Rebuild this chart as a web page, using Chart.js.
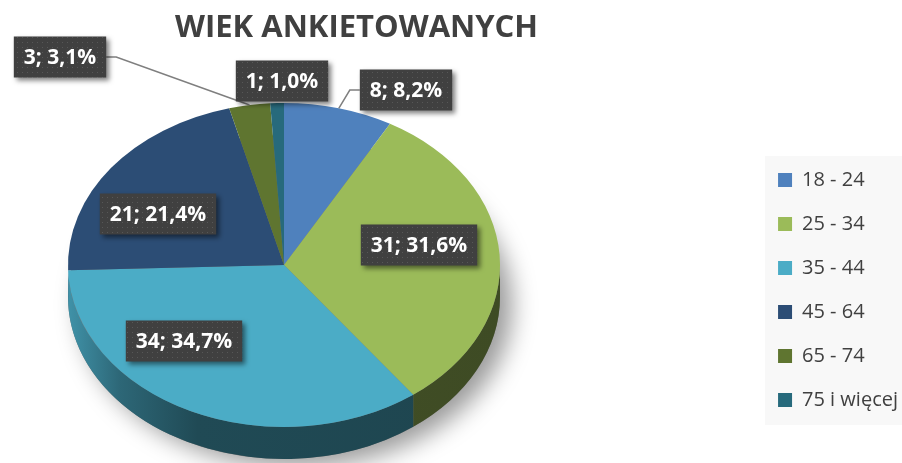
<!DOCTYPE html>
<html>
<head>
<meta charset="utf-8">
<script src="https://cdn.jsdelivr.net/npm/chart.js@4.4.1/dist/chart.umd.min.js"></script>
<style>
  body { margin: 0; background: #fff; }
  #wrap { width: 902px; height: 463px; }
</style>
</head>
<body>
<div id="wrap"><canvas id="pie-chart"></canvas></div>
<script>
var ageGroups = ["18 - 24", "25 - 34", "35 - 44", "45 - 64", "65 - 74", "75 i więcej"];
var respondents = [8, 31, 34, 21, 3, 1];
var sliceColors = ["#4f81bd", "#9bbb59", "#4bacc6", "#2c4d75", "#5f7530", "#276a7c"];

// centre of each data label box
var labelSpots = [[406, 90], [419, 245], [184, 341], [158, 214], [60, 57], [282, 81]];

// the flat pie gets squashed into this ellipse, with a side of "depth" px
var pieBox = { cx: 284, cy: 265, rx: 216, ry: 162, depth: 32 };

function shade(hex, f) {
  var n = parseInt(hex.slice(1), 16);
  var r = Math.round(((n >> 16) & 255) * f), g = Math.round(((n >> 8) & 255) * f), b = Math.round((n & 255) * f);
  return "rgb(" + r + "," + g + "," + b + ")";
}

var total = respondents.reduce(function(a, b) { return a + b; }, 0);

// dotted fill for the label boxes
var dots = document.createElement("canvas");
dots.width = 5; dots.height = 5;
var dctx = dots.getContext("2d");
dctx.fillStyle = "#404040"; dctx.fillRect(0, 0, 5, 5);
dctx.fillStyle = "#575757"; dctx.fillRect(2, 2, 1, 1);

var pie3d = {
  id: "pie3d",
  afterLayout: function(chart) {
    // title sits a bit left of the plot area centre
    chart.titleBlock.left -= 41;
  },
  beforeDraw: function(chart) {
    // grey panel behind the legend
    var ctx = chart.ctx, hb = chart.legend.legendHitBoxes;
    if (!hb || !hb.length) return;
    var last = hb[hb.length - 1];
    ctx.save();
    ctx.fillStyle = "#f8f8f8";
    ctx.fillRect(hb[0].left - 13, hb[0].top - 14, chart.width - hb[0].left + 13, last.top + last.height + 15 - (hb[0].top - 14));
    ctx.restore();
  },
  beforeDatasetsDraw: function(chart) {
    var ctx = chart.ctx, meta = chart.getDatasetMeta(0);
    var p = pieBox;
    // soft shadow under the whole pie
    ctx.save();
    ctx.shadowColor = "rgba(0,0,0,0.4)";
    ctx.shadowBlur = 24;
    ctx.shadowOffsetX = 12;
    ctx.shadowOffsetY = 8;
    ctx.fillStyle = "#777";
    ctx.beginPath();
    ctx.ellipse(p.cx, p.cy + p.depth, p.rx, p.ry, 0, 0, Math.PI * 2);
    ctx.fill();
    ctx.restore();
    // side walls of the front slices
    meta.data.forEach(function(arc, i) {
      var s = Math.max(arc.startAngle, 0), e = Math.min(arc.endAngle, Math.PI);
      if (e <= s) return;
      var grad = ctx.createLinearGradient(p.cx - p.rx, 0, p.cx + p.rx, 0);
      grad.addColorStop(0, shade(sliceColors[i], 0.85));
      grad.addColorStop(0.12, shade(sliceColors[i], 0.6));
      grad.addColorStop(0.3, shade(sliceColors[i], 0.43));
      grad.addColorStop(1, shade(sliceColors[i], 0.4));
      ctx.beginPath();
      ctx.ellipse(p.cx, p.cy, p.rx, p.ry, 0, s, e);
      ctx.ellipse(p.cx, p.cy + p.depth, p.rx, p.ry, 0, e, s, true);
      ctx.closePath();
      ctx.fillStyle = grad;
      ctx.fill();
    });
    // squash the round pie into the ellipse
    var a0 = meta.data[0];
    ctx.save();
    ctx.translate(p.cx, p.cy);
    ctx.scale(p.rx / a0.outerRadius, p.ry / a0.outerRadius);
    ctx.translate(-a0.x, -a0.y);
  },
  afterDatasetsDraw: function(chart) {
    chart.ctx.restore();
  },
  afterDraw: function(chart) {
    var ctx = chart.ctx, meta = chart.getDatasetMeta(0), p = pieBox;
    ctx.save();
    ctx.font = "bold 21px 'Open Sans'";
    ctx.textAlign = "center";
    ctx.textBaseline = "middle";
    meta.data.forEach(function(arc, i) {
      var txt = respondents[i] + "; " + (respondents[i] / total * 100).toFixed(1).replace(".", ",") + "%";
      var w = ctx.measureText(txt).width + 20, h = 41;
      var bx = labelSpots[i][0], by = labelSpots[i][1];
      var left = bx - w / 2, top = by - h / 2;
      // leader line to the top edge of the slice, only for labels outside the pie
      var mid = (arc.startAngle + arc.endAngle) / 2;
      var ax = p.cx + p.rx * Math.cos(mid), ay = p.cy + p.ry * Math.sin(mid);
      var nx = (bx - p.cx) / p.rx, ny = (by - p.cy) / p.ry;
      var dx = Math.max(left - ax, 0, ax - (left + w)), dy = Math.max(top - ay, 0, ay - (top + h));
      if (nx * nx + ny * ny > 1 && Math.sqrt(dx * dx + dy * dy) > 8) {
        ctx.strokeStyle = "#7f7f7f";
        ctx.lineWidth = 1.5;
        ctx.beginPath();
        ctx.moveTo(ax, ay);
        if (bx > ax) { ctx.lineTo(left - 10, by); ctx.lineTo(left, by); }
        else { ctx.lineTo(left + w + 10, by); ctx.lineTo(left + w, by); }
        ctx.stroke();
      }
      ctx.save();
      ctx.shadowColor = "rgba(0,0,0,0.5)";
      ctx.shadowBlur = 5;
      ctx.shadowOffsetX = 3;
      ctx.shadowOffsetY = 3;
      ctx.fillStyle = ctx.createPattern(dots, "repeat");
      ctx.fillRect(left, top, w, h);
      ctx.restore();
      ctx.fillStyle = "#ffffff";
      ctx.fillText(txt, bx, by + 1);
    });
    ctx.restore();
  }
};

var ctx1 = document.getElementById("pie-chart").getContext("2d");
var myChart = new Chart(ctx1, {
  type: "pie",
  data: {
    labels: ageGroups,
    datasets: [
      {
        data: respondents,
        backgroundColor: sliceColors,
        borderWidth: 0,
        clip: false,
      },
    ],
  },
  options: {
    responsive: true,
    maintainAspectRatio: false,
    animation: false,
    layout: {
      padding: { left: 0, right: -6, top: 0, bottom: 29 },
    },
    plugins: {
      title: {
        display: true,
        text: "WIEK ANKIETOWANYCH",
        color: "#404040",
        font: { family: "'Open Sans'", size: 31, weight: "bold" },
        padding: { top: 10, bottom: 6 },
        fullSize: false,
      },
      legend: {
        position: "right",
        align: "end",
        labels: {
          color: "#404040",
          font: { family: "'Open Sans'", size: 20 },
          boxWidth: 14,
          boxHeight: 14,
          padding: 24,
        },
      },
      tooltip: { enabled: false },
    },
  },
  plugins: [pie3d],
});
</script>
</body>
</html>
